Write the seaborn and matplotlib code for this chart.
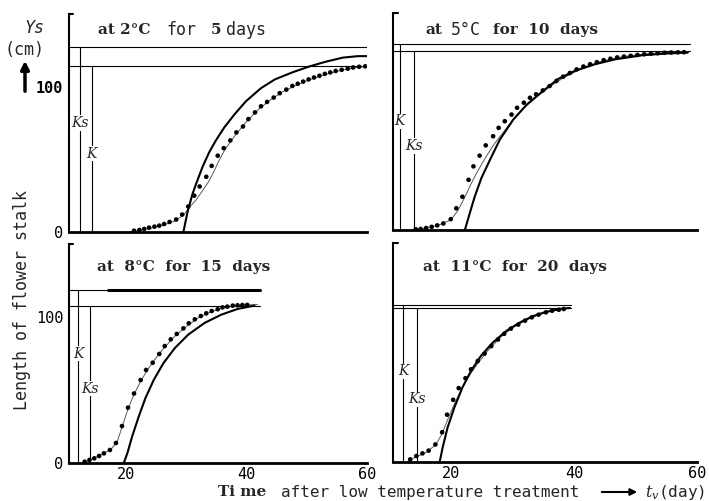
import matplotlib
matplotlib.use("Agg")
import matplotlib.pyplot as plt
from matplotlib.patches import FancyArrowPatch
import seaborn as sns

sns.set_style("white")
plt.rcParams['font.family'] = ['DejaVu Sans Mono', 'DejaVu Sans']
plt.rcParams['mathtext.fontset'] = 'dejavuserif'

# ------------------------------------------------------------------ data
# Panel 1: at 2°C for 5 days
p1_obs_day = [21.3, 22.2, 23.0, 23.8, 24.7, 25.5, 26.3, 27.2, 28.3, 29.3, 30.3, 31.3, 32.2, 33.3,
              34.2, 35.2, 36.2, 37.3, 38.3, 39.4, 40.3, 41.4, 42.4, 43.4, 44.5, 45.5, 46.6, 47.6,
              48.5, 49.4, 50.3, 51.2, 52.1, 53.0, 53.9, 54.8, 55.8, 56.8, 57.7, 58.7, 59.7]
p1_obs_len = [0.9, 1.4, 2.1, 3.0, 3.7, 4.4, 5.5, 6.9, 8.6, 12.0, 17.5, 25.0, 31.3, 38.0,
              45.5, 52.5, 57.7, 63.0, 68.5, 72.6, 77.7, 82.3, 86.5, 89.5, 92.5, 95.5, 98.0, 100.5,
              102.0, 103.5, 105.0, 106.3, 107.5, 108.8, 109.8, 110.8, 111.6, 112.4, 113.2, 113.7, 114.0]
p1_fit_day = [20.5, 22, 24, 26, 28, 29.5, 30.5, 31.6, 32.6, 33.6, 34.5, 35.4, 36.3, 37.3, 38.3,
              40, 42, 44, 46, 48, 50, 52, 54, 56, 58, 60]
p1_fit_len = [0, 1, 2.5, 4.5, 7.5, 11.5, 17, 22, 28, 34, 41, 49, 56, 62, 67.5,
              76, 84.5, 91, 96.5, 100.5, 104, 107, 109.5, 111.5, 113, 114]
p1_sol_day = [29.5, 30.2, 31.0, 31.6, 32.7, 33.8, 34.9, 36.3, 38.0, 39.9, 42.4, 44.7, 47.7,
              50.5, 53, 56, 58.5, 60]
p1_sol_len = [0, 14, 26, 33, 45, 55, 63, 72, 81, 90, 99, 105, 110,
              114, 117, 120, 121, 121]
p1_K_len, p1_Ks_len = 114, 127
p1_K_day, p1_Ks_day = 14.3, 12.3
p1_line_end = 60.5

# Panel 2: at 5°C for 10 days
p2_obs_day = [14.2, 15.0, 15.9, 16.8, 17.7, 18.7, 19.9, 20.8, 21.8, 22.8, 23.6, 24.6, 25.6, 26.8,
              27.7, 28.7, 29.8, 30.7, 31.8, 32.8, 33.8, 34.9, 36.0, 37.1, 38.2, 39.3, 40.4, 41.5,
              42.6, 43.7, 44.8, 45.9, 47.0, 48.1, 49.2, 50.3, 51.4, 52.5, 53.6, 54.7, 55.8, 56.9, 57.9]
p2_obs_len = [0.5, 0.7, 1.4, 2.2, 3.2, 4.5, 7.5, 15, 23, 34.7, 44, 51.4, 58.5, 64.8,
              70.6, 75.2, 79.8, 84.5, 88, 91.4, 93.8, 96.5, 99.5, 103, 106, 108.5, 111, 113,
              114.6, 116, 117.4, 118.4, 119.3, 119.9, 120.4, 121, 121.5, 121.9, 122.2, 122.5, 122.7, 122.8, 122.9]
p2_fit_day = [13.8, 16, 18, 19.9, 21, 22, 23, 24, 25, 26, 27, 28, 29, 30, 32, 34, 36, 38, 40,
              42, 44, 46, 48, 50, 52, 54, 56, 58.5]
p2_fit_len = [0, 1.5, 3.5, 7, 13, 21, 30, 38.5, 46, 53, 59.5, 65, 70.5, 76, 85, 92.5, 99, 104.5, 109,
              113, 116, 118.2, 119.8, 121, 121.8, 122.4, 122.8, 123.2]
p2_sol_day = [22.2, 23.0, 23.8, 24.9, 26.3, 27.9, 30.1, 32.3, 34.6, 37.3, 40.1, 43.4, 46.7,
              51.1, 55, 58.5]
p2_sol_len = [0, 11.6, 23, 36, 48.6, 62.5, 76.4, 86.8, 94.9, 104.2, 110, 114.6, 118,
              120.8, 122, 122.6]
p2_K_len, p2_Ks_len = 128.5, 123.5
p2_K_day, p2_Ks_day = 11.6, 13.9
p2_line_end = 58.8

# Panel 3: at 8°C for 15 days
p3_obs_day = [13.1, 13.9, 14.7, 15.5, 16.3, 17.3, 18.3, 19.3, 20.3, 21.3, 22.4, 23.3, 24.4, 25.5,
              26.4, 27.4, 28.4, 29.5, 30.4, 31.4, 32.4, 33.3, 34.2, 35.2, 36.0, 36.8, 37.7, 38.5,
              39.3, 40.1]
p3_obs_len = [0.9, 2.1, 3.2, 4.8, 6.6, 8.9, 13.7, 25.3, 37.9, 47.6, 56.8, 63.7, 68.7, 74.7,
              80.1, 84.7, 88.4, 92.2, 95.7, 98.4, 100.7, 102.5, 104.1, 105.3, 106.6, 107.1, 107.8, 108,
              108.2, 108.3]
p3_fit_day = [12.8, 14, 16, 17.5, 18.5, 19.3, 20.3, 21.3, 22.4, 23.5, 24.5, 26, 28, 30, 32, 34,
              36, 38, 40, 41.8]
p3_fit_len = [0, 2, 6, 9.5, 14.5, 24.5, 37, 47, 56, 63.5, 69.5, 77.5, 86.5, 93.5, 99.5, 103.5,
              106, 107.5, 108.3, 108.5]
p3_sol_day = [19.6, 20.2, 21.0, 22.1, 23.2, 24.6, 26.2, 28.1, 30.3, 33.0, 35.8, 38.5, 41.3]
p3_sol_len = [0, 6.8, 18.3, 32, 44.5, 57.1, 68.5, 78.8, 87.9, 95.9, 101.6, 105.5, 107.8]
p3_K_len, p3_Ks_len = 118.5, 107.5
p3_K_day, p3_Ks_day = 12.0, 14.0
p3_line_end = 42.3
p3_bold_from = 16.9

# Panel 4: at 11°C for 20 days
p4_obs_day = [13.3, 14.3, 15.3, 16.3, 17.4, 18.5, 19.3, 20.3, 21.2, 22.3, 23.2, 24.3, 25.4, 26.5,
              27.6, 28.6, 29.7, 30.9, 32.0, 33.1, 34.2, 35.4, 36.4, 37.5, 38.3]
p4_obs_len = [1.8, 4.1, 5.9, 7.8, 12.0, 20.4, 32.4, 42.6, 50.6, 57.4, 63.5, 69.2, 74.2, 79.4,
              83.9, 87.8, 91.4, 94.1, 96.8, 99.1, 100.9, 102.5, 103.6, 104.3, 104.8]
p4_fit_day = [12.9, 14, 16, 17.5, 18.5, 19.3, 20.2, 21.2, 22.2, 23.2, 24.4, 26, 28, 30, 32, 34,
              36, 38, 39.3]
p4_fit_len = [0, 3, 6.8, 12, 19.5, 28, 37, 46, 54, 61, 68, 76.5, 85.5, 92, 96.8, 100.5,
              103.2, 104.8, 105.3]
p4_sol_day = [18.1, 18.6, 19.4, 20.5, 21.8, 23.2, 24.8, 26.7, 28.9, 31.0, 33.2, 35.3, 38.0, 39.3]
p4_sol_len = [0, 10.2, 23.8, 37.4, 51, 62.4, 72.6, 81.6, 89.6, 95.2, 99.8, 102.7, 105, 105.5]
p4_K_len, p4_Ks_len = 107.3, 105.2
p4_K_day, p4_Ks_day = 12.2, 14.4
p4_line_end = 39.5

x_ticks = [20, 30, 40, 50, 60]
x_ticklabels = ['20', '', '40', '', '60']
y_ticks = [0, 50, 100]
y_ticklabels = ['0', '', '100']

# ------------------------------------------------------------------ figure
W, H = 709, 501
fig = plt.figure(figsize=(W / 100, H / 100), dpi=100)
XMIN, XMAX = 10.5, 60
YMIN, YMAX = 0, 150


def px_axes(x0, y_top, x1, y_bot):
    return fig.add_axes([x0 / W, 1 - y_bot / H, (x1 - x0) / W, (y_bot - y_top) / H])


def ftext(x, y, s, **kw):
    fig.text(x / W, 1 - y / H, s, **kw)


axes = [px_axes(69, 14, 367, 232), px_axes(393, 13, 697, 230),
        px_axes(69, 244, 367, 463), px_axes(393, 243, 697, 462)]

panels = [
    (p1_obs_day, p1_obs_len, p1_fit_day, p1_fit_len, p1_sol_day, p1_sol_len,
     p1_K_len, p1_Ks_len, p1_K_day, p1_Ks_day, p1_line_end),
    (p2_obs_day, p2_obs_len, p2_fit_day, p2_fit_len, p2_sol_day, p2_sol_len,
     p2_K_len, p2_Ks_len, p2_K_day, p2_Ks_day, p2_line_end),
    (p3_obs_day, p3_obs_len, p3_fit_day, p3_fit_len, p3_sol_day, p3_sol_len,
     p3_K_len, p3_Ks_len, p3_K_day, p3_Ks_day, p3_line_end),
    (p4_obs_day, p4_obs_len, p4_fit_day, p4_fit_len, p4_sol_day, p4_sol_len,
     p4_K_len, p4_Ks_len, p4_K_day, p4_Ks_day, p4_line_end),
]
# label heights (data units) for the K / Ks marks
k_label_y = [(54, 75), (75, 58), (75, 51), (62, 43)]

for i, (ax, pdat) in enumerate(zip(axes, panels)):
    od, ol, fd, fl, sd, sl, K, Ks, Kd, Ksd, end = pdat
    # asymptote lines
    ax.plot([XMIN, end], [K, K], color='black', lw=0.8)
    ax.plot([XMIN, end], [Ks, Ks], color='black', lw=0.8)
    ax.plot([Kd, Kd], [0, K], color='black', lw=0.8)
    ax.plot([Ksd, Ksd], [0, Ks], color='black', lw=0.8)
    # curves
    sns.lineplot(x=fd, y=fl, ax=ax, color='0.35', lw=0.7, sort=False, estimator=None)
    sns.lineplot(x=sd, y=sl, ax=ax, color='black', lw=1.5, sort=False, estimator=None)
    sns.scatterplot(x=od, y=ol, ax=ax, color='black', s=11, edgecolor='none', linewidth=0, zorder=5)
    # K labels
    ky, ksy = k_label_y[i]
    ax.text(Kd, ky, 'K', fontsize=10, family='DejaVu Serif', style='italic',
            ha='center', va='center', bbox=dict(fc='white', ec='none', pad=0.5), zorder=6)
    ax.text(Ksd, ksy, 'Ks', fontsize=10, family='DejaVu Serif', style='italic',
            ha='center', va='center', bbox=dict(fc='white', ec='none', pad=0.5), zorder=6)

    ax.set_xlim(XMIN, XMAX)
    ax.set_ylim(YMIN, YMAX)
    ax.set_xticks(x_ticks)
    ax.set_yticks(y_ticks)
    ax.set_xticklabels(x_ticklabels if i >= 2 else [''] * len(x_ticks))
    ax.set_yticklabels(y_ticklabels if i % 2 == 0 else [''] * len(y_ticks))
    ax.tick_params(direction='in', length=5, width=1.2, labelsize=11, pad=4, colors='black')
    ax.tick_params(axis='x', pad=3)
    ax.set_xlabel('')
    ax.set_ylabel('')
    for side in ('top', 'right'):
        ax.spines[side].set_visible(False)
    ax.spines['left'].set_linewidth(1.5)
    ax.spines['bottom'].set_linewidth(2.0)
    ax.spines['left'].set_color('black')
    ax.spines['bottom'].set_color('black')
    ax.plot([0, 0.015], [1, 1], transform=ax.transAxes, color='black', lw=1.5, clip_on=False)
    ax.patch.set_alpha(0)

# bold part of the upper line in panel 3
axes[2].plot([p3_bold_from, p3_line_end], [p3_K_len, p3_K_len], color='black', lw=2.2)

# TL '100' appears bold
for lab in axes[0].get_yticklabels():
    if lab.get_text() == '100':
        lab.set_fontweight('bold')

# ------------------------------------------------------------------ titles
serif_b = dict(family='DejaVu Serif', fontweight='bold', fontsize=11, va='center', ha='left')
mono = dict(family='DejaVu Sans Mono', fontsize=12, va='center', ha='left')
ftext(98, 30, 'at 2°C', **serif_b)
ftext(166, 30, 'for', **mono)
ftext(211, 30, '5', **serif_b)
ftext(226, 30, 'days', **mono)

ftext(425, 30, 'at', **serif_b)
ftext(451, 30, '5°C', **mono)
ftext(493, 30, 'for  10  days', **serif_b)

ftext(97, 267, 'at  8°C  for  15  days', **serif_b)
ftext(423, 267, 'at  11°C  for  20  days', **serif_b)

# ------------------------------------------------------------------ axis labels
ftext(34, 28, 'Ys', family='DejaVu Sans Mono', style='italic', fontsize=12, ha='center', va='center')
ftext(25, 50, '(cm)', family='DejaVu Sans Mono', fontsize=12, ha='center', va='center')
fig.add_artist(FancyArrowPatch((25 / W, 1 - 94 / H), (25 / W, 1 - 58 / H), transform=fig.transFigure,
                               arrowstyle='-|>', mutation_scale=12, lw=2.5, color='black'))

ftext(22, 300, "Length of flower stalk", family='DejaVu Sans Mono', fontsize=12,
      rotation=90, ha='center', va='center')

ftext(218, 492, 'Ti me', family='DejaVu Serif', fontweight='bold', fontsize=11, ha='left', va='center')
ftext(281, 492, 'after low temperature treatment', family='DejaVu Sans Mono', fontsize=11.5,
      ha='left', va='center')
fig.add_artist(FancyArrowPatch((599 / W, 1 - 492 / H), (640 / W, 1 - 492 / H), transform=fig.transFigure,
                               arrowstyle='-|>', mutation_scale=10, lw=1.5, color='black'))
ftext(645, 493, r'$t_v$(day)', family='DejaVu Sans Mono', fontsize=11.5, ha='left', va='center')

fig.savefig('out.png', dpi=100, facecolor='white')
